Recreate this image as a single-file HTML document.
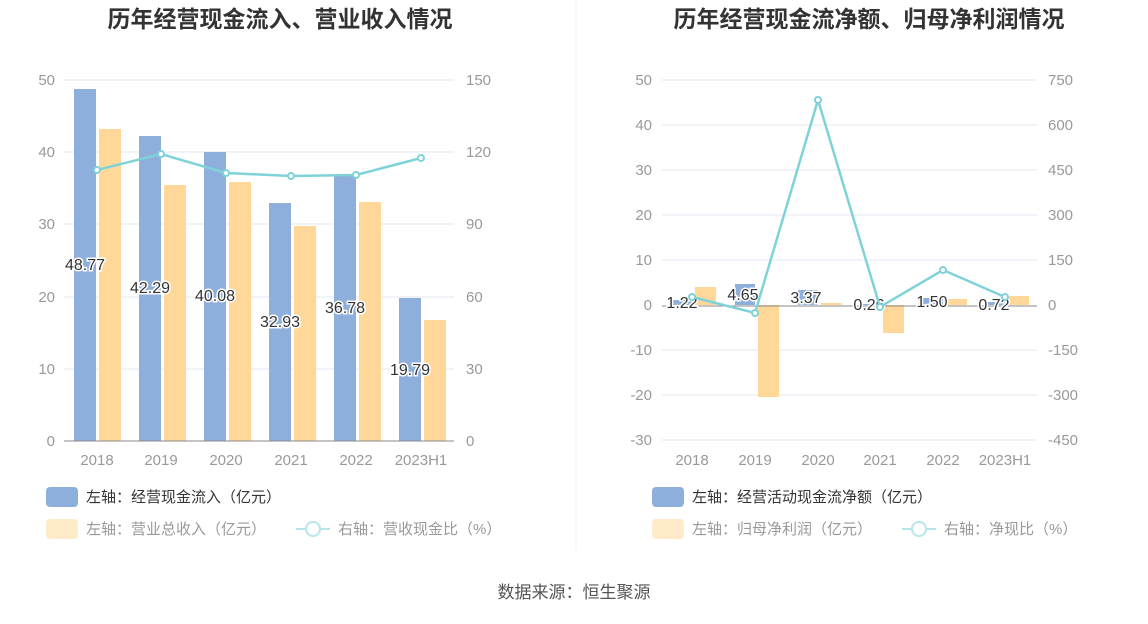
<!DOCTYPE html>
<html><head><meta charset="utf-8"><style>
body{margin:0;background:#fff;}
svg text{font-family:"Liberation Sans","Noto Sans CJK SC",sans-serif;}
</style></head><body>
<svg width="1148" height="619" xmlns="http://www.w3.org/2000/svg">
<rect width="1148" height="619" fill="#fff"/>
<line x1="576" y1="0" x2="576" y2="550" stroke="#f0f0f0"/>
<text x="280" y="27" font-size="23" font-weight="bold" fill="#333" text-anchor="middle">历年经营现金流入、营业收入情况</text>
<text x="869" y="27" font-size="23" font-weight="bold" fill="#333" text-anchor="middle">历年经营现金流净额、归母净利润情况</text>
<g stroke="#e3e7f2" stroke-width="1">
<line x1="64" y1="80" x2="454" y2="80"/><line x1="64" y1="152" x2="454" y2="152"/><line x1="64" y1="224" x2="454" y2="224"/><line x1="64" y1="297" x2="454" y2="297"/><line x1="64" y1="369" x2="454" y2="369"/>
</g>
<g font-size="15" fill="#999">
<text x="55" y="85" text-anchor="end">50</text><text x="55" y="157" text-anchor="end">40</text><text x="55" y="229" text-anchor="end">30</text><text x="55" y="302" text-anchor="end">20</text><text x="55" y="374" text-anchor="end">10</text><text x="55" y="446" text-anchor="end">0</text>
<text x="466" y="85">150</text><text x="466" y="157">120</text><text x="466" y="229">90</text><text x="466" y="302">60</text><text x="466" y="374">30</text><text x="466" y="446">0</text>
<text x="97" y="465" text-anchor="middle">2018</text><text x="161" y="465" text-anchor="middle">2019</text><text x="226" y="465" text-anchor="middle">2020</text><text x="291" y="465" text-anchor="middle">2021</text><text x="356" y="465" text-anchor="middle">2022</text><text x="421" y="465" text-anchor="middle">2023H1</text>
</g>
<g fill="#8eaedb">
<rect x="74" y="89" width="22" height="352"/><rect x="139" y="136" width="22" height="305"/><rect x="204" y="152" width="22" height="289"/><rect x="269" y="203" width="22" height="238"/><rect x="334" y="175" width="22" height="266"/><rect x="399" y="298" width="22" height="143"/>
</g>
<g fill="#ffd899">
<rect x="99" y="129" width="22" height="312"/><rect x="164" y="185" width="22" height="256"/><rect x="229" y="182" width="22" height="259"/><rect x="294" y="226" width="22" height="215"/><rect x="359" y="202" width="22" height="239"/><rect x="424" y="320" width="22" height="121"/>
</g>
<line x1="64" y1="441" x2="454" y2="441" stroke="#888"/>
<polyline points="97,170 161,154 226,173 291,176 356,175 421,158" fill="none" stroke="#7fd3d8" stroke-width="2.5"/>
<g fill="#fff" stroke="#7fd3d8" stroke-width="2"><circle cx="97" cy="170" r="3"/><circle cx="161" cy="154" r="3"/><circle cx="226" cy="173" r="3"/><circle cx="291" cy="176" r="3"/><circle cx="356" cy="175" r="3"/><circle cx="421" cy="158" r="3"/></g>
<g font-size="16" fill="#333" text-anchor="middle" stroke="#fff" stroke-width="3" paint-order="stroke">
<text x="85" y="270">48.77</text><text x="150" y="293">42.29</text><text x="215" y="301">40.08</text><text x="280" y="327">32.93</text><text x="345" y="313">36.78</text><text x="410" y="375">19.79</text>
</g>
<g stroke="#e3e7f2"><line x1="662" y1="80" x2="1037" y2="80"/><line x1="662" y1="125" x2="1037" y2="125"/><line x1="662" y1="170" x2="1037" y2="170"/><line x1="662" y1="215" x2="1037" y2="215"/><line x1="662" y1="260" x2="1037" y2="260"/><line x1="662" y1="350" x2="1037" y2="350"/><line x1="662" y1="395" x2="1037" y2="395"/><line x1="662" y1="440" x2="1037" y2="440"/></g>
<g font-size="15" fill="#999">
<text x="652" y="85" text-anchor="end">50</text><text x="652" y="130" text-anchor="end">40</text><text x="652" y="175" text-anchor="end">30</text><text x="652" y="220" text-anchor="end">20</text><text x="652" y="265" text-anchor="end">10</text><text x="652" y="310" text-anchor="end">0</text><text x="652" y="355" text-anchor="end">-10</text><text x="652" y="400" text-anchor="end">-20</text><text x="652" y="445" text-anchor="end">-30</text>
<text x="1048" y="85">750</text><text x="1048" y="130">600</text><text x="1048" y="175">450</text><text x="1048" y="220">300</text><text x="1048" y="265">150</text><text x="1048" y="310">0</text><text x="1048" y="355">-150</text><text x="1048" y="400">-300</text><text x="1048" y="445">-450</text>
<text x="692" y="465" text-anchor="middle">2018</text><text x="755" y="465" text-anchor="middle">2019</text><text x="818" y="465" text-anchor="middle">2020</text><text x="880" y="465" text-anchor="middle">2021</text><text x="943" y="465" text-anchor="middle">2022</text><text x="1005" y="465" text-anchor="middle">2023H1</text>
</g>
<g fill="#8eaedb"><rect x="672" y="300" width="20" height="5"/><rect x="735" y="284" width="20" height="21"/><rect x="798" y="290" width="20" height="15"/><rect x="860" y="304" width="20" height="1"/><rect x="923" y="298" width="20" height="7"/><rect x="985" y="302" width="20" height="3"/></g>
<g fill="#ffd899"><rect x="695" y="287" width="21" height="18"/><rect x="758" y="305" width="21" height="92"/><rect x="821" y="303" width="21" height="2"/><rect x="883" y="305" width="21" height="28"/><rect x="946" y="299" width="21" height="6"/><rect x="1008" y="296" width="21" height="9"/></g>
<line x1="662" y1="306" x2="1037" y2="306" stroke="#888"/>
<g font-size="16" fill="#333" text-anchor="middle" stroke="#fff" stroke-width="3" paint-order="stroke">
<text x="682" y="308">1.22</text><text x="743" y="300">4.65</text><text x="806" y="303">3.37</text><text x="869" y="310">0.26</text><text x="932" y="307">1.50</text><text x="994" y="310">0.72</text>
</g>
<polyline points="692,297 755,313 818,100 880,307 943,270 1005,297" fill="none" stroke="#7fd3d8" stroke-width="2.5"/>
<g fill="#fff" stroke="#7fd3d8" stroke-width="2"><circle cx="692" cy="297" r="3"/><circle cx="755" cy="313" r="3"/><circle cx="818" cy="100" r="3"/><circle cx="880" cy="307" r="3"/><circle cx="943" cy="270" r="3"/><circle cx="1005" cy="297" r="3"/></g>
<g font-size="15">
<rect x="46" y="487" width="32" height="20" rx="4" fill="#8eaedb"/><text x="86" y="502" fill="#333">左轴：经营现金流入（亿元）</text>
<rect x="46" y="519" width="32" height="20" rx="4" fill="#ffebc9"/><text x="86" y="534" fill="#999">左轴：营业总收入（亿元）</text>
<line x1="296" y1="529" x2="330" y2="529" stroke="#b7e6ea" stroke-width="2"/><circle cx="313" cy="529" r="7" fill="#fff" stroke="#b7e6ea" stroke-width="2"/><text x="338" y="534" fill="#999">右轴：营收现金比（%）</text>
<rect x="652" y="487" width="32" height="20" rx="4" fill="#8eaedb"/><text x="692" y="502" fill="#333">左轴：经营活动现金流净额（亿元）</text>
<rect x="652" y="519" width="32" height="20" rx="4" fill="#ffebc9"/><text x="692" y="534" fill="#999">左轴：归母净利润（亿元）</text>
<line x1="902" y1="529" x2="936" y2="529" stroke="#b7e6ea" stroke-width="2"/><circle cx="919" cy="529" r="7" fill="#fff" stroke="#b7e6ea" stroke-width="2"/><text x="944" y="534" fill="#999">右轴：净现比（%）</text>
<text x="574" y="598" fill="#555" font-size="17" text-anchor="middle">数据来源：恒生聚源</text>
</g>
</svg>
</body></html>
